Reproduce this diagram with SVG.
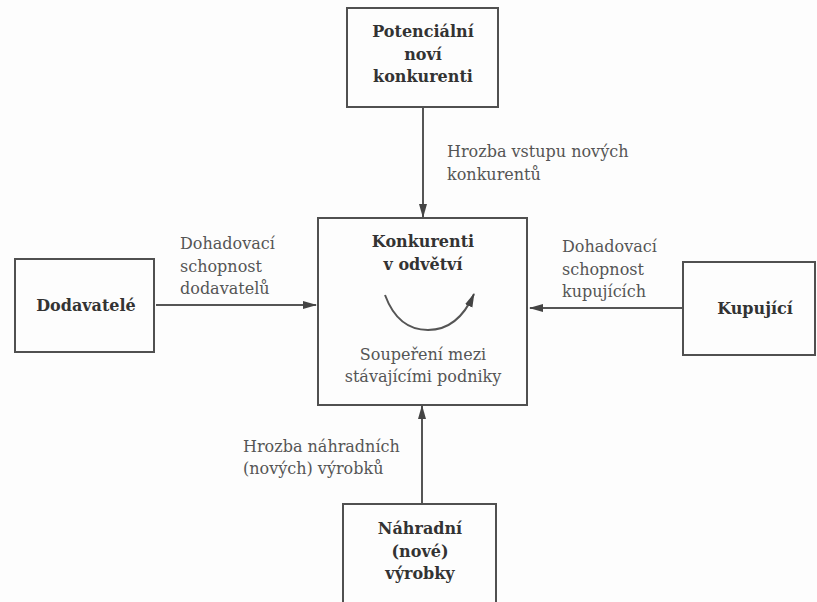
<svg xmlns="http://www.w3.org/2000/svg" width="817" height="602" viewBox="0 0 817 602">
<style>
.box{fill:none;stroke:#505050;stroke-width:2}
.b{font-family:"DejaVu Serif","Liberation Serif",serif;font-weight:bold;font-size:16px;fill:#333;text-anchor:middle}
.t{font-family:"DejaVu Serif","Liberation Serif",serif;font-size:16px;fill:#555}
.c{text-anchor:middle}
.ln{stroke:#555;stroke-width:2;fill:none}
</style>
<defs>
<marker id="ah" markerWidth="14" markerHeight="10" refX="13" refY="5" orient="auto" markerUnits="userSpaceOnUse">
<path d="M0,1 L14,5 L0,9 Z" fill="#444"/>
</marker>
</defs>
<rect width="817" height="602" fill="#fdfdfd"/>
<g id="connectors">
<line class="ln" x1="423" y1="108" x2="423" y2="217" marker-end="url(#ah)"/>
<line class="ln" x1="156" y1="305" x2="316" y2="305" marker-end="url(#ah)"/>
<line class="ln" x1="683" y1="308" x2="530" y2="308" marker-end="url(#ah)"/>
<line class="ln" x1="422" y1="504" x2="422" y2="406" marker-end="url(#ah)"/>
<text class="t" x="447" y="157">Hrozba vstupu nových</text>
<text class="t" x="447" y="180">konkurentů</text>
<text class="t" x="180" y="249">Dohadovací</text>
<text class="t" x="180" y="272">schopnost</text>
<text class="t" x="180" y="294">dodavatelů</text>
<text class="t" x="562" y="252">Dohadovací</text>
<text class="t" x="562" y="275">schopnost</text>
<text class="t" x="562" y="297">kupujících</text>
<text class="t" x="243" y="452">Hrozba náhradních</text>
<text class="t" x="243" y="474">(nových) výrobků</text>
</g>
<g id="potencialni">
<rect class="box" x="347" y="8" width="151" height="99"/>
<text class="b" x="423" y="37">Potenciální</text>
<text class="b" x="423" y="60">noví</text>
<text class="b" x="423" y="82">konkurenti</text>
</g>
<g id="konkurenti">
<rect class="box" x="318" y="218" width="209" height="187"/>
<text class="b" x="423" y="247">Konkurenti</text>
<text class="b" x="423" y="270">v odvětví</text>
<path class="ln" d="M385,295 Q398,330 428,330 Q458,330 474,294" marker-end="url(#ah)"/>
<text class="t c" x="423" y="360">Soupeření mezi</text>
<text class="t c" x="423" y="382">stávajícími podniky</text>
</g>
<g id="dodavatele">
<rect class="box" x="15" y="259" width="139" height="93"/>
<text class="b" x="86" y="311">Dodavatelé</text>
</g>
<g id="kupujici">
<rect class="box" x="683" y="262" width="132" height="93"/>
<text class="b" x="755" y="314">Kupující</text>
</g>
<g id="nahradni">
<rect class="box" x="343" y="504" width="153" height="100"/>
<text class="b" x="420" y="534">Náhradní</text>
<text class="b" x="420" y="557">(nové)</text>
<text class="b" x="420" y="579">výrobky</text>
</g>
</svg>
